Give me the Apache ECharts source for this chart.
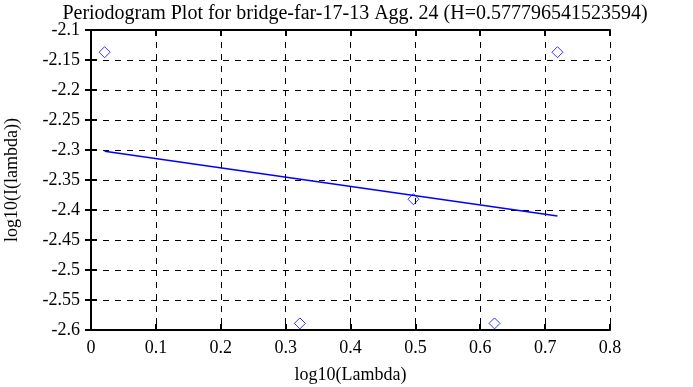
<!DOCTYPE html>
<html><head><meta charset="utf-8">
<script src="https://cdn.jsdelivr.net/npm/echarts@6/dist/echarts.min.js"></script>
<style>html,body{margin:0;padding:0;background:#fff}#c{width:693px;height:387px}</style>
</head><body><div id="c"></div>
<script>
const titleText = 'Periodogram Plot for bridge-far-17-13 Agg. 24 (H=0.577796541523594)';
const xName = 'log10(Lambda)';
const yName = 'log10(I(lambda))';
const pointsX = [0.021, 0.322, 0.497, 0.622, 0.719];
const pointsY = [-2.137, -2.589, -2.382, -2.589, -2.137];
const fitX = [0.021, 0.719];
const fitY = [-2.302, -2.410];
const font = 'Liberation Serif';

const chart = echarts.init(document.getElementById('c'), null, {renderer:'canvas'});
const axisLine = {show:true, lineStyle:{color:'#000', width:2}};
const grid = {lineStyle:{color:'#000', type:[6,6], width:1}};
const tick = {show:true, inside:true, length:6, lineStyle:{color:'#000', width:2}};
chart.setOption({
  animation:false,
  title:{text:titleText, left:350, textAlign:'center', top:-1,
    textStyle:{fontFamily:font, fontSize:20, fontWeight:'normal', color:'#000'}},
  grid:{left:91, right:83, top:30, bottom:57, containLabel:false, outerBoundsMode:'none'},
  xAxis:[{type:'value', min:0, max:0.8, interval:0.1, position:'bottom',
    name:xName, nameLocation:'middle', nameGap:36,
    nameTextStyle:{fontFamily:font, fontSize:18, color:'#000'},
    axisLine, axisTick:tick,
    axisLabel:{fontFamily:font, fontSize:18, color:'#000', margin:9,
      formatter:v=>String(+v.toFixed(2))},
    splitLine:{show:true, ...grid}},
   {type:'value', min:0, max:0.8, interval:0.1, position:'top',
    axisLine, axisTick:tick,
    axisLabel:{show:false}, splitLine:{show:false}}],
  yAxis:[{type:'value', min:-2.6, max:-2.1, interval:0.05, position:'left',
    name:yName, nameLocation:'middle', nameGap:70, nameRotate:90,
    nameTextStyle:{fontFamily:font, fontSize:18, color:'#000'},
    axisLine, axisTick:tick,
    axisLabel:{fontFamily:font, fontSize:18, color:'#000', margin:11,
      formatter:v=>String(+v.toFixed(2))},
    splitLine:{show:true, ...grid}},
   {type:'value', min:-2.6, max:-2.1, interval:0.05, position:'right',
    axisLine, axisTick:tick,
    axisLabel:{show:false}, splitLine:{show:false}}],
  series:[
    {type:'scatter', xAxisIndex:0, yAxisIndex:0, symbol:'diamond', symbolSize:[11,11],
      itemStyle:{color:'rgba(255,255,255,0)', borderColor:'#0000ff', borderWidth:1},
      data:pointsX.map((x,i)=>[x, pointsY[i]])},
    {type:'line', xAxisIndex:0, yAxisIndex:0, showSymbol:false, symbol:'none',
      lineStyle:{color:'#0000ff', width:1.5},
      data:fitX.map((x,i)=>[x, fitY[i]])}
  ]
});
</script></body></html>
